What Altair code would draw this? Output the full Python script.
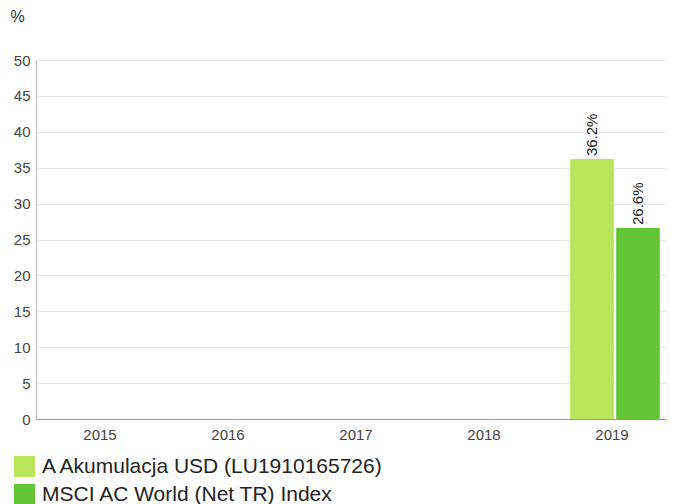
import altair as alt
import pandas as pd

years = ["2015", "2016", "2017", "2018", "2019"]
series = ["A Akumulacja USD (LU1910165726)", "MSCI AC World (Net TR) Index"]
fund_values = [None, None, None, None, 36.2]
index_values = [None, None, None, None, 26.6]
colors = ["#b9e55a", "#62c534"]
y_ticks = [0, 5, 10, 15, 20, 25, 30, 35, 40, 45, 50]

rows = []
for y, f, i in zip(years, fund_values, index_values):
    if f is not None:
        rows.append({"year": y, "series": series[0], "value": f, "label": f"{f:.1f}%"})
    if i is not None:
        rows.append({"year": y, "series": series[1], "value": i, "label": f"{i:.1f}%"})
df = pd.DataFrame(rows)

x_scale = alt.Scale(domain=years, range=[0, 640], paddingInner=0.3, paddingOuter=0.15)
x_enc = alt.X("year:N", scale=x_scale,
              axis=alt.Axis(title=None, labelAngle=0, ticks=False, domainColor="#999999",
                            labelFontSize=15, labelColor="#444444", labelPadding=8,
                            labelFont="Liberation Sans"))
x_off = alt.XOffset("series:N", scale=alt.Scale(domain=series, range=[3, 92.6], paddingInner=0.05))
y_enc = alt.Y("value:Q", scale=alt.Scale(domain=[0, 50]),
              axis=alt.Axis(values=y_ticks, labelOverlap=False,
                            title="%", titleAngle=0,
                            titleAlign="left", titleBaseline="middle", titleX=-26, titleY=-44,
                            titleFontSize=16, titleFontWeight="normal", titleColor="#333333",
                            titleFont="Liberation Sans",
                            ticks=False, domainColor="#bbbbbb", gridColor="#e6e6e6",
                            labelFontSize=15, labelColor="#444444", labelPadding=6,
                            labelFont="Liberation Sans"))

bars = alt.Chart(df).mark_bar().encode(
    x=x_enc, xOffset=x_off, y=y_enc,
    color=alt.Color("series:N", scale=alt.Scale(domain=series, range=colors),
                    legend=alt.Legend(title=None, orient="none", legendX=-22, legendY=396,
                                      symbolType="square", symbolSize=441, symbolStrokeWidth=0,
                                      labelFontSize=21, labelColor="#222222", labelOffset=7,
                                      rowPadding=6, labelFont="Liberation Sans",
                                      labelLimit=600)),
)

labels = alt.Chart(df).mark_text(angle=270, align="left", baseline="middle", dx=3,
                                 fontSize=15, color="#222222", font="Liberation Sans").encode(
    x=x_enc,
    xOffset=x_off,
    y=y_enc,
    text="label:N",
)

chart = alt.layer(bars, labels).properties(
    width=630, height=359,
    autosize=alt.AutoSizeParams(type="none"),
    padding={"left": 28, "top": 52, "right": 0, "bottom": 100},
).configure_view(stroke=None)

chart.save("out.html", embed_options={"renderer": "svg", "actions": False})
